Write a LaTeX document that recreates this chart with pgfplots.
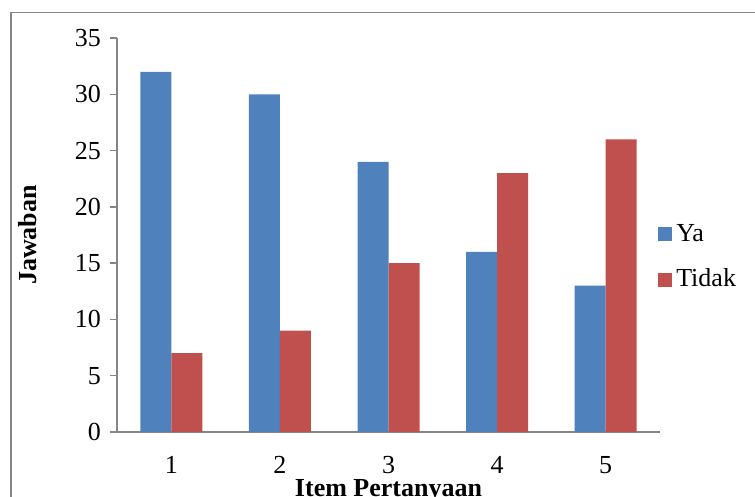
\documentclass[border=0pt]{standalone}
\usepackage{fontspec}
\setmainfont{Liberation Serif}
\usepackage{pgfplots}
\pgfplotsset{compat=1.18}
\definecolor{yablue}{HTML}{4F81BD}
\definecolor{tidakred}{HTML}{C0504D}
\definecolor{axisgray}{HTML}{868686}
\begin{document}
\fontsize{13}{15.6}\selectfont
\begin{tikzpicture}
\useasboundingbox (0,0) rectangle (377.5pt,248.5pt);
% chart frame (only top and left edges are inside the picture)
\draw[axisgray, line width=0.75pt] (400pt,242.2pt) -- (5.5pt,242.2pt) -- (5.5pt,-20pt);
\begin{axis}[
    at={(58.5pt,32.5pt)}, anchor=south west,
    scale only axis,
    width=271.5pt, height=197pt,
    ybar=0pt, bar width=15.5pt,
    xmin=0.5, xmax=5.5,
    ymin=0, ymax=35,
    xtick={1,2,3,4,5},
    ytick={0,5,...,35},
    axis lines*=left,
    axis line style={axisgray, line width=0.75pt},
    tick align=outside,
    major tick length=3.5pt,
    x tick style={draw=none},
    y tick style={axisgray, line width=0.75pt},
    xticklabel style={yshift=-4pt},
    /pgf/number format/assume math mode=true,
    xlabel={\textbf{Item Pertanyaan}},
    xlabel style={at={(axis description cs:0.5,-0.097)}, anchor=north},
    ylabel={\textbf{Jawaban}},
    ylabel style={at={(axis description cs:-0.165,0.5)}, anchor=center},
    legend style={at={(axis description cs:0.985,0.443)}, anchor=west,
        draw=none, fill=none, row sep=8pt},
    legend cell align=left,
    legend image code/.code={\fill[#1] (0pt,-3.5pt) rectangle (7pt,3.5pt);},
]
\addplot[fill=yablue, draw=none] coordinates {(1,32) (2,30) (3,24) (4,16) (5,13)};
\addlegendentry{Ya}
\addplot[fill=tidakred, draw=none] coordinates {(1,7) (2,9) (3,15) (4,23) (5,26)};
\addlegendentry{Tidak}
\end{axis}
\end{tikzpicture}
\end{document}
